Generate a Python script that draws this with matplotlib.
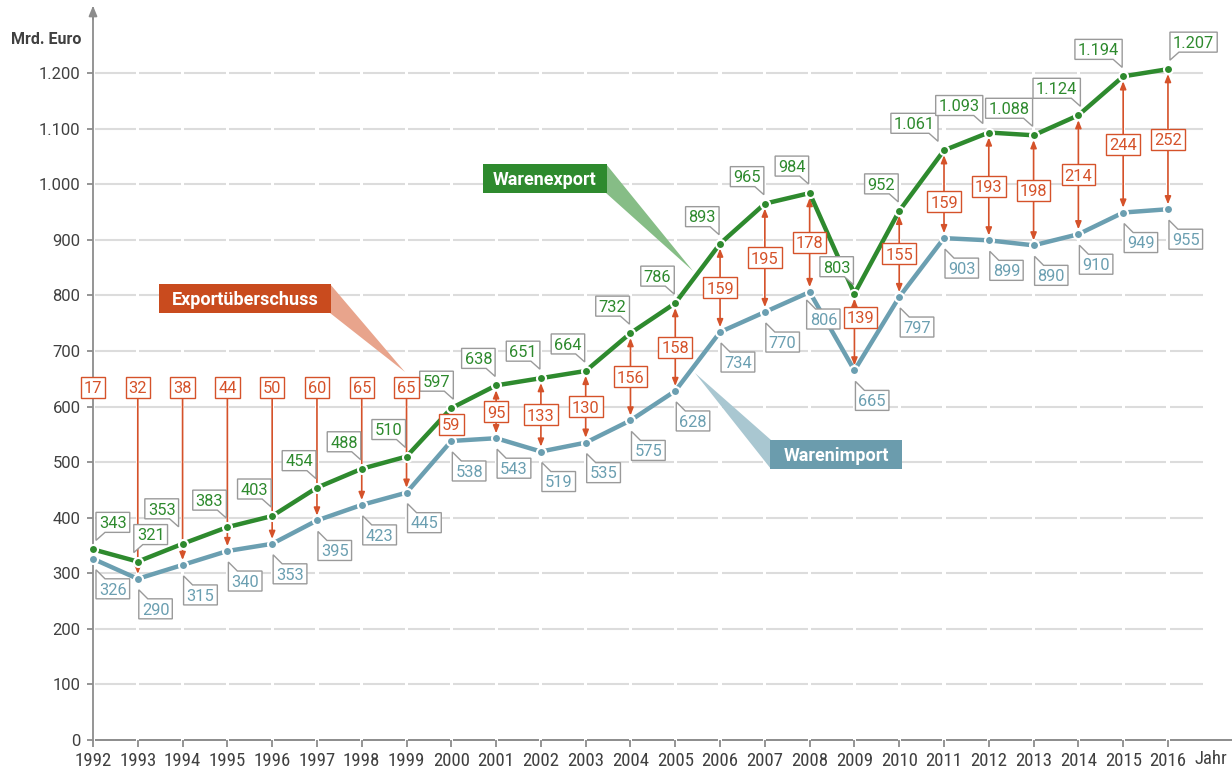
import matplotlib
matplotlib.use('Agg')
import matplotlib.pyplot as plt
from matplotlib.patches import Polygon
from matplotlib import font_manager as fm

# ---------------- data ----------------
years = list(range(1992, 2017))
export_vals = [343, 321, 353, 383, 403, 454, 488, 510, 597, 638, 651, 664, 732,
               786, 893, 965, 984, 803, 952, 1061, 1093, 1088, 1124, 1194, 1207]
import_vals = [326, 290, 315, 340, 353, 395, 423, 445, 538, 543, 519, 535, 575,
               628, 734, 770, 806, 665, 797, 903, 899, 890, 910, 949, 955]
surplus_vals = [17, 32, 38, 44, 50, 60, 65, 65, 59, 95, 133, 130, 156, 158,
                159, 195, 178, 139, 155, 159, 193, 198, 214, 244, 252]
yticks = list(range(0, 1300, 100))
name_export = 'Warenexport'
name_import = 'Warenimport'
name_surplus = 'Exportüberschuss'
y_unit = 'Mrd. Euro'
x_unit = 'Jahr'

# ---------------- style ----------------
def pick(names):
    for n in names:
        try:
            fm.findfont(fm.FontProperties(family=n), fallback_to_default=False)
            return n
        except Exception:
            pass
    return 'DejaVu Sans'

FONT_C = pick(['Roboto Condensed', 'Liberation Sans Narrow', 'DejaVu Sans'])
FONT_R = pick(['Roboto', 'Liberation Sans', 'DejaVu Sans'])
plt.rcParams['font.family'] = [FONT_R, 'DejaVu Sans']

GREEN = '#2e8a2e'
GREEN_TAIL = '#86bd86'
BLUE = '#6b9fb1'
BLUE_BOX = '#6b9cad'
BLUE_TAIL = '#a9c7d1'
ORANGE = '#d5522a'
ORANGE_BOX = '#c94b1e'
ORANGE_TAIL = '#e8a48c'
GRID = '#dcdcdc'
AXIS = '#8c8c8c'
TXT = '#404040'
LBL_EDGE = '#9a9a9a'
FS = 11.8
PAD = 6

W, H = 1232, 771
PX_PER_YEAR = 44.79
PX_PER_UNIT = 0.5558
X0, Y0 = 93, 740  # pixel of (1992, 0), from top

fig = plt.figure(figsize=(W / 100, H / 100), dpi=100)
ax = fig.add_axes([X0 / W, (H - Y0) / H, (W - X0) / W, (Y0 - 8) / H])
ax.set_xlim(years[0], years[0] + (W - X0) / PX_PER_YEAR)
ax.set_ylim(0, (Y0 - 8) / PX_PER_UNIT)
for s in ['top', 'right', 'bottom']:
    ax.spines[s].set_visible(False)
ax.spines['left'].set_color(AXIS)
ax.spines['left'].set_linewidth(1.3)
ax.spines['left'].set_zorder(2.5)

def fmt(v):
    return f"{v:,}".replace(',', '.')

ax.set_yticks(yticks)
ax.set_yticklabels([fmt(v) for v in yticks], fontfamily=FONT_R, fontsize=12)
ax.set_xticks(years)
ax.set_xticklabels([str(y) for y in years], fontfamily=FONT_C, fontsize=13.5)
ax.tick_params(axis='y', length=4, width=1.3, color=AXIS, pad=5, labelcolor=TXT)
ax.tick_params(axis='x', length=5, width=1.3, color=AXIS, pad=4, labelcolor=TXT)

xmax = ax.get_xlim()[1]
gap = 0.035
# grid segments with gaps at each year
for yv in yticks[1:]:
    for yr in years:
        x1 = yr + gap
        x2 = yr + 1 - gap if yr < years[-1] else yr + 0.78
        ax.plot([x1, x2], [yv, yv], color=GRID, lw=1.5, zorder=1, solid_capstyle='butt')
# x axis segments
for yr in years:
    x1 = yr + gap
    x2 = yr + 1 - gap if yr < years[-1] else xmax
    ax.plot([x1, x2], [0, 0], color=AXIS, lw=1.4, zorder=2.5, solid_capstyle='butt', clip_on=False)
# y axis arrow head
ytop = ax.get_ylim()[1]
ax.annotate('', xy=(years[0], ytop + 4), xytext=(years[0], ytop - 20),
            arrowprops=dict(arrowstyle='-|>,head_length=0.6,head_width=0.25', color=AXIS,
                            lw=1.3, shrinkA=0, shrinkB=0), annotation_clip=False, zorder=3)

r = fig.canvas.get_renderer()

def text_w(s, fs=FS, weight='normal', family=FONT_R):
    t = fig.text(0, 0, s, fontsize=fs, fontweight=weight, fontfamily=family)
    w = t.get_window_extent(renderer=r).width
    t.remove()
    return w

CAP = 0.711 * FS * 100 / 72
inv = ax.transData.inverted()

def px2d(xp, yp_top):
    return inv.transform((xp, H - yp_top))

# ---------------- legend callouts ----------------
LFS = 13
def legend_callout(text, box, tail, fc, tc):
    L, T, R, B = box  # pixel, from top
    bv = [px2d(L, T), px2d(R, T), px2d(R, B), px2d(L, B)]
    tv = [px2d(*p) for p in tail]
    ax.add_patch(Polygon(tv, closed=True, fc=tc, ec='none', zorder=1.6, clip_on=False))
    ax.add_patch(Polygon(bv, closed=True, fc=fc, ec='none', zorder=1.7, clip_on=False))
    cx, cy = px2d((L + R) / 2, (T + B) / 2 + 0.711 * LFS * 100 / 72 / 2)
    ax.text(cx, cy, text, color='white', fontsize=LFS, fontweight='bold', ha='center',
            va='baseline', zorder=1.8, fontfamily=FONT_R)

legend_callout(name_export, (483, 164, 607, 193), [(606, 164), (606, 193), (693, 271)], GREEN, GREEN_TAIL)
legend_callout(name_surplus, (159, 284, 331, 313), [(330, 284), (330, 313), (405, 372)], ORANGE_BOX, ORANGE_TAIL)
legend_callout(name_import, (770, 440, 902, 469), [(771, 440), (771, 469), (695, 373)], BLUE_BOX, BLUE_TAIL)

# ---------------- lines ----------------
ax.plot(years, import_vals, color=BLUE, lw=3.2, zorder=3, marker='o', ms=6.5,
        mfc=BLUE, mec='white', mew=1.5, solid_capstyle='round', clip_on=False)
ax.plot(years, export_vals, color=GREEN, lw=3.2, zorder=3.2, marker='o', ms=6.5,
        mfc=GREEN, mec='white', mew=1.5, solid_capstyle='round', clip_on=False)

# ---------------- value callouts ----------------
def callout(x, y, s, tcolor, pos, dx=0, dy=0):
    Px, Py = ax.transData.transform((x, y))
    w = text_w(s) + PAD
    h = 20
    if pos == 'ul':
        R = Px - 1 + dx; L = R - w; B = Py + 17 + dy; T = B + h
        verts = [(L, T), (R, T), (R, B - 8), (R - 9, B), (L, B)]
    elif pos == 'ur':
        L = Px + 2 + dx; R = L + w; B = Py + 17 + dy; T = B + h
        verts = [(L, T), (R, T), (R, B), (L + 9, B), (L, B - 8)]
    else:  # 'lr'
        L = Px + 1 + dx; R = L + w; T = Py - 20 + dy; B = T - h
        verts = [(L, T + 9), (L + 9, T), (R, T), (R, B), (L, B)]
    ax.add_patch(Polygon(inv.transform(verts), closed=True, fc='white', ec=LBL_EDGE,
                         lw=1.0, zorder=5, clip_on=False, joinstyle='miter'))
    tx, ty = inv.transform(((L + R) / 2, (T + B) / 2 - CAP / 2))
    ax.text(tx, ty, s, color=tcolor, fontsize=FS, ha='center', va='baseline', zorder=6,
            fontfamily=FONT_R)

export_pos = {1992: ('ur', 1, 0), 1993: ('ur', -6, 0), 1994: ('ul', -3, 8),
              2000: ('ul', 3, 0), 2011: ('ul', -5, 0), 2012: ('ul', -5, 0),
              2014: ('ul', 3, 0), 2016: ('ur', 0, 0)}
import_pos = {1992: (2, 0), 2008: (-4, 3)}
for yr, v in zip(years, export_vals):
    pos, dx, dy = export_pos.get(yr, ('ul', 0, 0))
    callout(yr, v, fmt(v), GREEN, pos, dx, dy)
for yr, v in zip(years, import_vals):
    dx, dy = import_pos.get(yr, (0, 0))
    callout(yr, v, fmt(v), BLUE, 'lr', dx, dy)

# ---------------- surplus arrows and boxes ----------------
top_level = 635
shift = {2009: (6, 26), 2011: (0, -14)}
for yr, e, i, s in zip(years, export_vals, import_vals, surplus_vals):
    sx, sy = shift.get(yr, (0, 0))
    if yr < 2000:
        if yr > years[0]:  # the first one would lie on the y axis
            ax.annotate('', xy=(yr, i), xytext=(yr, top_level),
                        arrowprops=dict(arrowstyle='-|>,head_length=0.45,head_width=0.18',
                                        color=ORANGE, lw=1.2, shrinkA=0, shrinkB=3.5),
                        zorder=2.4, annotation_clip=False)
        cy = top_level
    else:
        ax.annotate('', xy=(yr, i), xytext=(yr, e),
                    arrowprops=dict(arrowstyle='<|-|>,head_length=0.45,head_width=0.18',
                                    color=ORANGE, lw=1.2, shrinkA=3.5, shrinkB=3.5),
                    zorder=2.4, annotation_clip=False)
        cy = (e + i) / 2 + sy
    Px, Py = ax.transData.transform((yr, cy))
    Px += sx
    w = text_w(str(s)) + PAD
    h = 21
    L, R, B, T = Px - w / 2, Px + w / 2, Py - h / 2, Py + h / 2
    ax.add_patch(Polygon(inv.transform([(L, T), (R, T), (R, B), (L, B)]), closed=True,
                         fc='white', ec=ORANGE, lw=1.0, zorder=5.5, clip_on=False))
    tx, ty = inv.transform((Px, Py - CAP / 2))
    ax.text(tx, ty, str(s), color=ORANGE, fontsize=FS, ha='center', va='baseline', zorder=6,
            fontfamily=FONT_R)

# ---------------- axis titles ----------------
mx, my = px2d(46, 40)
ax.text(mx, my, y_unit, color=TXT, fontsize=11.5, fontweight='bold', ha='center', va='center',
        fontfamily=FONT_R)
jx, jy = px2d(1211, 759)
ax.text(jx, jy, x_unit, color=TXT, fontsize=13.5, ha='center', va='center', fontfamily=FONT_C)

fig.savefig('out.png', dpi=100)
